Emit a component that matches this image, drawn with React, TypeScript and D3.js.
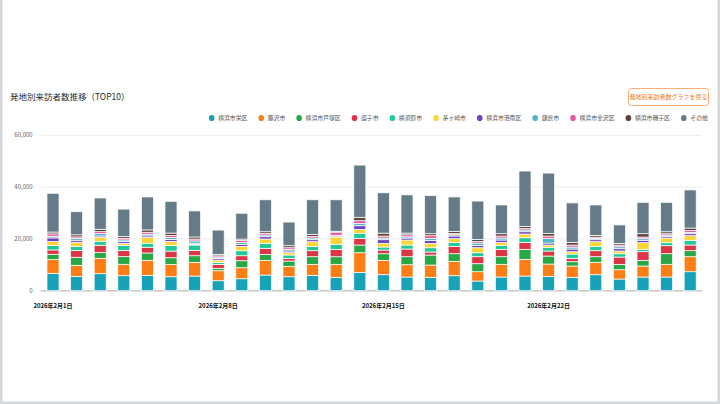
import React from "react";
import * as d3 from "d3";

// categories: days of Feb 2026
const days = [1, 2, 3, 4, 5, 6, 7, 8, 9, 10, 11, 12, 13, 14, 15, 16, 17, 18, 19, 20, 21, 22, 23, 24, 25, 26, 27, 28];
const labelDays = [1, 8, 15, 22];
const yTicks = [0, 20000, 40000, 60000];

// series values
const sakae = [6700, 5550, 6580, 5800, 5930, 5400, 5660, 3860, 4630, 6050, 5400, 5920, 5150, 7080, 6180, 5280, 5150, 5800, 3740, 5280, 5660, 5530, 5150, 6180, 4500, 5280, 5280, 7340];
const fujisawa = [5300, 4250, 5930, 4390, 5800, 4760, 5280, 3860, 4250, 5660, 4000, 4250, 5020, 7600, 5530, 4760, 4760, 5530, 3600, 4900, 6440, 4760, 4380, 4760, 3600, 4250, 4900, 5800];
const totsuka = [2060, 3100, 2190, 2970, 2840, 2570, 2570, 900, 2700, 2320, 2060, 2960, 2960, 2960, 2570, 3090, 3860, 2960, 3090, 2960, 3860, 3090, 1670, 2190, 2060, 2190, 4120, 2320];
const zushi = [1680, 2580, 2840, 2320, 2190, 2570, 2060, 1540, 1930, 2320, 1030, 2320, 2830, 2570, 1420, 2960, 1160, 2830, 2700, 2830, 2700, 1930, 1290, 2320, 2830, 3350, 3090, 2190];
const yokosuka = [1680, 1550, 1550, 2060, 1550, 2190, 2060, 770, 1930, 1930, 1290, 1670, 1930, 1930, 1160, 1540, 1670, 1540, 1540, 1540, 1800, 1420, 1670, 1670, 1290, 900, 1160, 1800];
const chigasaki = [1550, 1680, 1550, 770, 2190, 1540, 300, 900, 1670, 1670, 900, 1800, 2830, 1540, 1420, 1930, 1670, 1420, 1930, 1160, 1420, 900, 900, 1800, 1030, 2580, 1800, 1800];
const konan = [1420, 770, 500, 650, 650, 770, 400, 640, 770, 900, 640, 770, 400, 1420, 1420, 770, 1160, 1030, 900, 900, 900, 770, 1030, 770, 900, 900, 640, 770];
const kamakura = [650, 650, 900, 650, 650, 770, 900, 500, 770, 640, 640, 640, 300, 900, 640, 500, 770, 500, 900, 770, 640, 1800, 770, 500, 770, 640, 500, 500];
const kanazawa = [900, 650, 770, 650, 770, 770, 700, 500, 770, 640, 640, 640, 1200, 1030, 770, 770, 1030, 500, 640, 770, 640, 900, 770, 500, 640, 640, 500, 770];
const isogo = [700, 800, 900, 650, 900, 900, 800, 500, 500, 640, 770, 770, 300, 1290, 1100, 640, 770, 770, 770, 900, 770, 1030, 1030, 640, 640, 1290, 770, 900];
const others = [14960, 8920, 12090, 10590, 12730, 12260, 10070, 9430, 9980, 12330, 9130, 13360, 12180, 20180, 15590, 14760, 14700, 13320, 14790, 11090, 21370, 23270, 15240, 11770, 7140, 12080, 11340, 14710];

const seriesNames = ["横浜市栄区", "藤沢市", "横浜市戸塚区", "逗子市", "横須賀市", "茅ヶ崎市", "横浜市港南区", "鎌倉市", "横浜市金沢区", "横浜市磯子区", "その他"];
const seriesValues = [sakae, fujisawa, totsuka, zushi, yokosuka, chigasaki, konan, kamakura, kanazawa, isogo, others];
const seriesColors = ["#17a2b8", "#fd7e14", "#28a745", "#dc3545", "#20c997", "#fcd535", "#6f42c1", "#4fb8c6", "#e8569b", "#5d4037", "#657b88"];

const FONT = "'Noto Sans CJK JP', 'Noto Sans', sans-serif";

export default function App() {
  const width = 720;
  const height = 404;

  const rows = days.map((d, i) => {
    const r: Record<string, number> = { day: d };
    seriesNames.forEach((name, s) => (r[name] = seriesValues[s][i]));
    return r;
  });
  const stacked = d3.stack<Record<string, number>>().keys(seriesNames)(rows);

  const x = d3
    .scaleBand<number>()
    .domain(days)
    .range([41.2, 702])
    .paddingInner(0.49)
    .paddingOuter(0.245);
  const y = d3.scaleLinear().domain([0, 60000]).range([290.7, 135.3]);
  const fmt = d3.format(",");

  // legend layout, left to right
  const legendFont = 5.85;
  let lx = 211.7;
  const legendItems = seriesNames.map((name, i) => {
    const item = { name, color: seriesColors[i], x: lx };
    lx += 20.3 + name.length * legendFont;
    return item;
  });

  return (
    <div style={{ position: "fixed", left: 0, top: 0 }}>
      <svg width={width} height={height} style={{ display: "block", fontFamily: FONT }}>
        <rect width={width} height={height} fill="#d3d7dc" />
        <rect x={2.5} y={0} width={715} height={401.5} fill="#fff" />

        <text x={10} y={99.5} fontSize={8.5} fill="#2b2b2b">
          発地別来訪者数推移（TOP10）
        </text>

        {/* button */}
        <rect x={628.5} y={88.5} width={80} height={17} rx={3} fill="#fff" stroke="#f7a56a" strokeWidth={0.9} />
        <text x={668.5} y={97} dy="0.35em" textAnchor="middle" fontSize={6} fill="#f07a22">
          発地別来訪者数グラフを見る
        </text>

        {/* legend */}
        {legendItems.map((it) => (
          <g key={it.name}>
            <ellipse cx={it.x} cy={118} rx={2.8} ry={3.1} fill={it.color} />
            <text x={it.x + 6.5} y={118} dy="0.35em" fontSize={legendFont} fill="#555">
              {it.name}
            </text>
          </g>
        ))}

        {/* grid + y axis */}
        {yTicks.map((t) => (
          <g key={t}>
            <line
              x1={40.7}
              x2={702.3}
              y1={y(t)}
              y2={y(t)}
              stroke={t === 0 ? "#c8c8c8" : "#ececec"}
              strokeWidth={t === 0 ? 1.4 : 1}
            />
            <text x={32.7} y={y(t)} dy="0.35em" textAnchor="end" fontSize={6} fill="#666">
              {fmt(t)}
            </text>
          </g>
        ))}

        {/* bars */}
        {stacked.map((layer, s) => (
          <g key={layer.key} fill={seriesColors[s]}>
            {layer.map((seg, i) => (
              <rect
                key={i}
                x={x(days[i])}
                width={x.bandwidth()}
                y={y(seg[1])}
                height={y(seg[0]) - y(seg[1])}
                stroke="#fff"
                strokeWidth={0.8}
                strokeOpacity={0.9}
              />
            ))}
          </g>
        ))}

        {/* x labels */}
        {labelDays.map((d) => (
          <text
            key={d}
            x={(x(d) ?? 0) + x.bandwidth() / 2}
            y={305.5}
            dy="0.35em"
            textAnchor="middle"
            fontSize={6}
            fontWeight={600}
            fill="#111"
          >
            {`2026年2月${d}日`}
          </text>
        ))}
      </svg>
    </div>
  );
}
